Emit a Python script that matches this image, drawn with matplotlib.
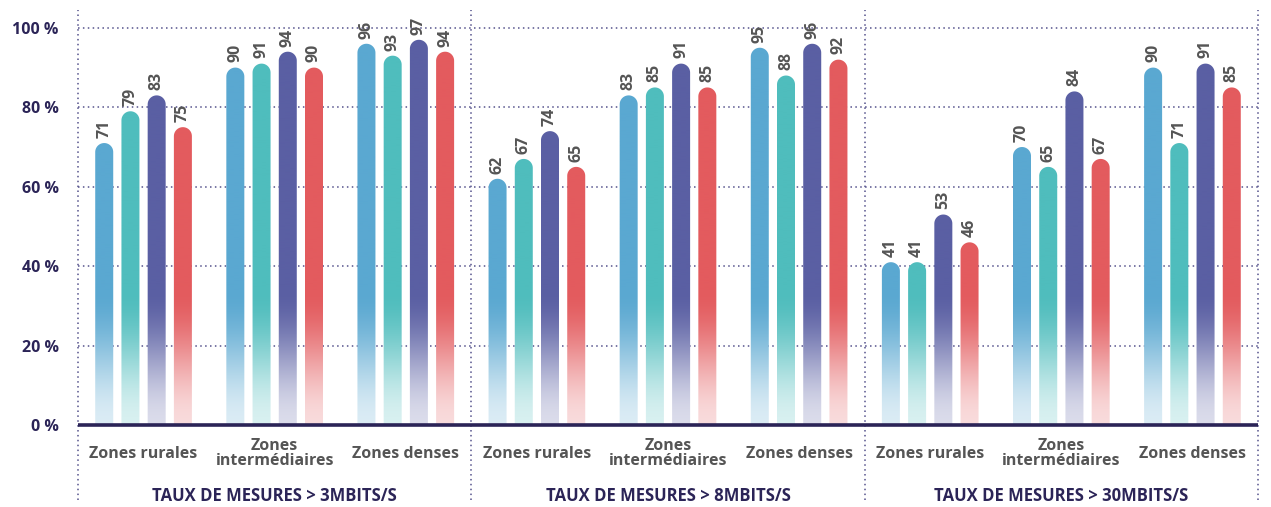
"""
Taux de mesures par zone et par débit : barres arrondies avec dégradé.
"""
import matplotlib

matplotlib.use("Agg")
import matplotlib.pyplot as plt  # noqa: E402
import numpy as np  # noqa: E402
from matplotlib.patches import PathPatch  # noqa: E402
from matplotlib.path import Path  # noqa: E402

zones = ["Zones rurales", "Zones\nintermédiaires", "Zones denses"]
panels = ["TAUX DE MESURES > 3MBITS/S", "TAUX DE MESURES > 8MBITS/S", "TAUX DE MESURES > 30MBITS/S"]
series_colors = ["#5aa8d1", "#4fbdbd", "#5a5fa3", "#e35b5e"]

# one list per panel, one row per zone, 4 series each
taux_3mbits = [[71, 79, 83, 75], [90, 91, 94, 90], [96, 93, 97, 94]]
taux_8mbits = [[62, 67, 74, 65], [83, 85, 91, 85], [95, 88, 96, 92]]
taux_30mbits = [[41, 41, 53, 46], [70, 65, 84, 67], [90, 71, 91, 85]]
yticks = [0, 20, 40, 60, 80, 100]

NAVY = "#2b2457"
GREY = "#555555"
GRID = "#55528c"
FONT = ["Open Sans", "DejaVu Sans"]

W, H = 1271, 507
fig = plt.figure(figsize=(W / 100, H / 100), dpi=100)
ax_left, ax_right = 78 / W, 1258 / W
ax_bottom, ax_top = (H - 425) / H, (H - 10) / H
ax = fig.add_axes([ax_left, ax_bottom, ax_right - ax_left, ax_top - ax_bottom])
YMAX = 104.5
ax.set_xlim(0, 9)
ax.set_ylim(0, YMAX)
for s in ax.spines.values():
    s.set_visible(False)

# pixel scale -> rounded cap radius in data units
px_x = (ax_right - ax_left) * W / 9
px_y = (ax_top - ax_bottom) * H / YMAX
bar_w = 18 / px_x
rx = bar_w / 2
ry = rx * px_x / px_y
offsets = [-0.3, -0.1, 0.1, 0.3]

# dotted grid
for t in yticks[1:]:
    ax.plot([0, 9], [t, t], ls=(0, (1, 2.2)), lw=1.1, color=GRID, zorder=1)
for xv in [0, 3, 6, 9]:
    ax.plot([xv, xv], [-19, YMAX], ls=(0, (1, 2.2)), lw=1.1, color=GRID, zorder=1, clip_on=False)


def capsule(xc, v):
    x0, x1 = xc - rx, xc + rx
    th = np.linspace(np.pi, 0, 30)
    arc = np.column_stack([xc + rx * np.cos(th), v - ry + ry * np.sin(th)])
    verts = np.vstack([[x0, 0], [x0, v - ry], arc, [x1, 0], [x0, 0]])
    return Path(verts, closed=True)


def gradient(color):
    rgb = np.array(matplotlib.colors.to_rgb(color))
    yy = np.linspace(YMAX, 0, 400)
    t = np.clip(yy / 34, 0, 1)
    t = t * t * (3 - 2 * t)
    a = 0.22 + 0.78 * t
    img = (1 - a[:, None]) * 1.0 + a[:, None] * rgb[None, :]
    return img[:, None, :]


all_panels = [taux_3mbits, taux_8mbits, taux_30mbits]
paths = {k: [] for k in range(4)}
for p, data in enumerate(all_panels):
    for z, vals in enumerate(data):
        gc = p * 3 + z + 0.5
        for k, v in enumerate(vals):
            xc = gc + offsets[k]
            paths[k].append(capsule(xc, v))
            ax.text(xc, v + 1.3, str(v), rotation=90, ha="center", va="bottom",
                    fontsize=11.5, fontweight="bold", color=GREY, family=FONT)
        ax.text(gc, -7.2, zones[z], ha="center", va="center", fontsize=11.5,
                fontweight="bold", color=GREY, family=FONT, linespacing=0.95)
    ax.text(p * 3 + 1.5, -17.8, panels[p], ha="center", va="center", fontsize=12,
            fontweight="bold", color=NAVY, family=FONT)

for k in range(4):
    comp = Path.make_compound_path(*paths[k])
    patch = PathPatch(comp, facecolor="none", edgecolor="none")
    ax.add_patch(patch)
    im = ax.imshow(gradient(series_colors[k]), extent=[0, 9, 0, YMAX], aspect="auto",
                   zorder=2, interpolation="bilinear")
    im.set_clip_path(patch)

ax.set_xlim(0, 9)
ax.set_ylim(0, YMAX)
ax.plot([0, 9], [0, 0], lw=2.6, color=NAVY, zorder=4, clip_on=False, solid_capstyle="butt")

ax.set_xticks([])
ax.set_yticks(yticks)
ax.set_yticklabels([f"{t} %" for t in yticks], fontsize=11.5, fontweight="bold",
                   color=NAVY, family=FONT)
ax.tick_params(axis="y", length=0, pad=14)

fig.savefig("out.png", dpi=100)
